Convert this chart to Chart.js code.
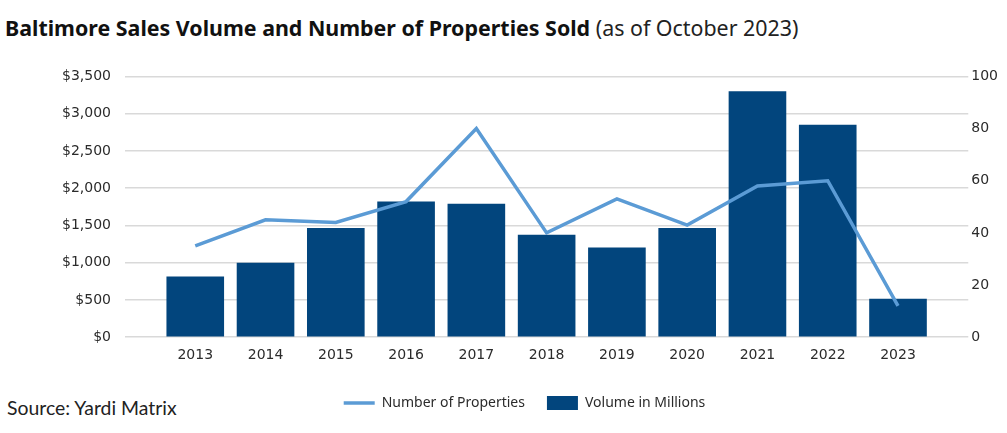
<!DOCTYPE html>
<html>
<head>
<meta charset="utf-8">
<script src="https://cdn.jsdelivr.net/npm/chart.js@4"></script>
<style>
  html, body { margin: 0; padding: 0; background: #fff; }
  body { width: 1007px; height: 433px; position: relative; overflow: hidden; font-family: 'Lato', sans-serif; color: #111; }
  #title { position: absolute; left: 5px; top: 13px; font-family: 'Noto Sans', sans-serif; font-size: 21.4px; white-space: nowrap; }
  #title b { font-weight: 700; }
  #title span { font-weight: 400; color: #222; }
  #source { position: absolute; left: 7px; top: 396px; font-size: 19.4px; color: #222; }
  #wrap { position: absolute; left: 45px; top: 54px; width: 962px; height: 372px; }
</style>
</head>
<body>
<div id="title"><b>Baltimore Sales Volume and Number of Properties Sold</b> <span>(as of October 2023)</span></div>
<div id="source">Source: Yardi Matrix</div>
<div id="wrap"><canvas id="chart"></canvas></div>
<script>
const years = ['2013', '2014', '2015', '2016', '2017', '2018', '2019', '2020', '2021', '2022', '2023'];
// sales volume, $ millions (left axis)
const volume = [815, 1000, 1465, 1820, 1790, 1375, 1205, 1465, 3300, 2850, 515];
// number of properties sold (right axis)
const properties = [35, 45, 44, 52, 80, 40, 53, 43, 58, 60, 12];

const barColor = '#02457d';
const lineColor = '#5b9bd5';
const textColor = '#2b2b2b';
const gridColor = '#d9d9d9';

// empty slot on each side so the bars sit inset from the gridline ends
const labels = [''].concat(years, ['']);
const pad = arr => [null].concat(arr, [null]);

new Chart(document.getElementById('chart'), {
  data: {
    labels: labels,
    datasets: [
      {
        type: 'line',
        label: 'Number of Properties',
        data: pad(properties),
        yAxisID: 'y2',
        borderColor: lineColor,
        backgroundColor: lineColor,
        borderWidth: 3.5,
        pointRadius: 0,
        tension: 0,
        pointStyle: 'line',
        order: 0
      },
      {
        type: 'bar',
        label: 'Volume in Millions',
        data: pad(volume),
        yAxisID: 'y',
        backgroundColor: barColor,
        borderWidth: 0,
        categoryPercentage: 0.82,
        barPercentage: 1,
        pointStyle: 'rect',
        order: 1
      }
    ]
  },
  options: {
    responsive: true,
    maintainAspectRatio: false,
    animation: false,
    layout: { padding: { top: 12, right: 6, left: 3, bottom: 6 } },
    plugins: {
      tooltip: { enabled: false },
      legend: {
        position: 'bottom',
        labels: {
          usePointStyle: true,
          pointStyleWidth: 31,
          boxHeight: 14,
          padding: 22,
          color: textColor,
          font: { family: 'Noto Sans', size: 14 }
        }
      }
    },
    scales: {
      x: {
        offset: false,
        grid: { display: false, drawTicks: false },
        border: { display: false },
        ticks: { color: textColor, padding: 10, font: { family: 'DejaVu Sans', size: 14 } }
      },
      y: {
        position: 'left',
        min: 0,
        max: 3500,
        grid: { color: gridColor, lineWidth: 1.5, drawTicks: false },
        border: { display: false },
        ticks: {
          stepSize: 500,
          padding: 14,
          color: textColor,
          font: { family: 'DejaVu Sans', size: 14 },
          callback: v => '$' + v.toLocaleString('en-US')
        }
      },
      y2: {
        position: 'right',
        min: 0,
        max: 100,
        grid: { drawOnChartArea: false, drawTicks: false },
        border: { display: false },
        ticks: { stepSize: 20, padding: 3, color: textColor, font: { family: 'DejaVu Sans', size: 14 } }
      }
    }
  }
});
</script>
</body>
</html>
